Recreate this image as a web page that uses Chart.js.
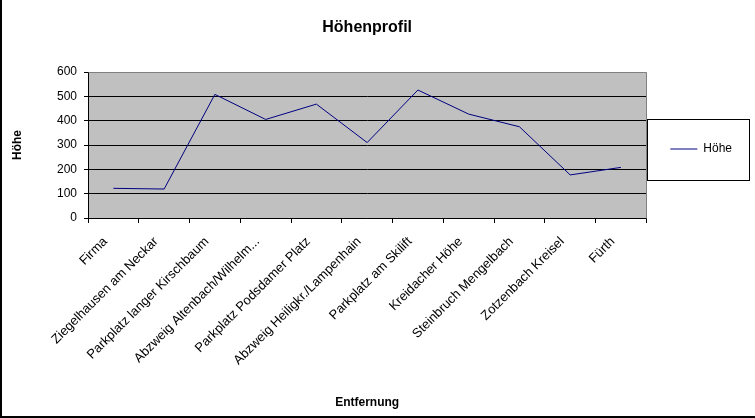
<!DOCTYPE html>
<html>
<head>
<meta charset="utf-8">
<script src="https://cdn.jsdelivr.net/npm/chart.js@4/dist/chart.umd.min.js"></script>
<style>
html,body{margin:0;padding:0;background:#fff;}
#wrap{width:755px;height:418px;position:relative;}
</style>
</head>
<body>
<div id="wrap"><canvas id="c" width="755" height="418"></canvas></div>
<script>
const chartTitle = "Höhenprofil";
const xTitle = "Entfernung";
const yTitle = "Höhe";
const seriesName = "Höhe";
const categories = [
  "Firma",
  "Ziegelhausen am Neckar",
  "Parkplatz langer Kirschbaum",
  "Abzweig Altenbach/Wilhelm...",
  "Parkplatz Podsdamer Platz",
  "Abzweig Heiligkr./Lampenhain",
  "Parkplatz am Skilift",
  "Kreidacher Höhe",
  "Steinbruch Mengelbach",
  "Zotzenbach Kreisel",
  "Fürth"
];
const heights = [122, 119, 508, 405, 468, 310, 526, 427, 375, 177, 208];
const yTicks = [0, 100, 200, 300, 400, 500, 600];

const FONT = "Arial, 'Liberation Sans', sans-serif";

const plotBg = {
  id: 'plotBg',
  beforeDraw(chart) {
    const {ctx, chartArea: a} = chart;
    ctx.save();
    ctx.fillStyle = '#C0C0C0';
    ctx.fillRect(a.left, a.top, a.right - a.left, a.bottom - a.top);
    ctx.restore();
  },
  afterDraw(chart) {
    const {ctx, chartArea: a, width, height} = chart;
    ctx.save();
    ctx.strokeStyle = '#808080';
    ctx.lineWidth = 1;
    ctx.beginPath();
    ctx.moveTo(Math.round(a.left) + 0.5, Math.round(a.top) + 0.5);
    ctx.lineTo(Math.round(a.right) + 0.5, Math.round(a.top) + 0.5);
    ctx.lineTo(Math.round(a.right) + 0.5, Math.round(a.bottom) + 0.5);
    ctx.stroke();
    // legend frame
    const lg = chart.legend;
    if (lg && lg.legendHitBoxes && lg.legendHitBoxes.length) {
      const hb = lg.legendHitBoxes[0];
      const cy = hb.top + hb.height / 2;
      ctx.strokeStyle = '#000';
      ctx.strokeRect(Math.round(a.right) + 1.5, Math.round(cy - 30) + 0.5, 102, 61);
    }
    // outer frame (left and bottom)
    ctx.strokeStyle = '#000';
    ctx.lineWidth = 2;
    ctx.beginPath();
    ctx.moveTo(1, 0);
    ctx.lineTo(1, height - 1);
    ctx.lineTo(width, height - 1);
    ctx.stroke();
    ctx.restore();
  }
};

new Chart(document.getElementById('c'), {
  type: 'line',
  data: {
    labels: categories,
    datasets: [{
      label: seriesName,
      data: heights,
      borderColor: '#000080',
      backgroundColor: '#000080',
      borderWidth: 1,
      pointRadius: 0,
      pointHoverRadius: 0,
      tension: 0,
      fill: false
    }]
  },
  options: {
    responsive: false,
    animation: false,
    devicePixelRatio: 1,
    layout: { padding: { left: 0, right: 13, top: 0, bottom: 0 } },
    plugins: {
      title: {
        display: true,
        fullSize: false,
        text: chartTitle,
        color: '#000',
        font: { family: FONT, size: 16, weight: 'bold' },
        padding: { top: 18, bottom: 34.8 }
      },
      legend: {
        display: true,
        fullSize: false,
        position: 'right',
        align: 'center',
        title: {
          display: true,
          text: '',
          font: { family: FONT, size: 8, lineHeight: 1 },
          padding: 0
        },
        labels: {
          usePointStyle: true,
          pointStyle: 'line',
          pointStyleWidth: 27,
          color: '#000',
          font: { family: FONT, size: 12 },
          padding: 24
        }
      },
      tooltip: { enabled: false }
    },
    scales: {
      x: {
        type: 'category',
        offset: true,
        grid: {
          offset: true,
          drawOnChartArea: false,
          drawTicks: true,
          tickLength: 5,
          color: '#000',
          tickColor: '#000'
        },
        border: { display: true, color: '#000', width: 1 },
        ticks: {
          autoSkip: false,
          maxRotation: 45,
          minRotation: 45,
          color: '#000',
          font: { family: FONT, size: 13 },
          padding: 2
        },
        title: {
          display: true,
          text: xTitle,
          color: '#000',
          font: { family: FONT, size: 12, weight: 'bold' },
          padding: { top: 4, bottom: 8 }
        },
        afterFit(scale) { scale.height = 200; },
        afterUpdate(scale) {
          const proto = Object.getPrototypeOf(scale);
          scale._computeLabelItems = function (ca) {
            const items = proto._computeLabelItems.call(this, ca);
            items.forEach(it => {
              const t = it.options.translation;
              it.options.translation = [t[0] - 8, t[1] + 9];
            });
            return items;
          };
        }
      },
      y: {
        min: 0,
        max: 600,
        afterBuildTicks(scale) { scale.ticks = yTicks.map(v => ({ value: v })); },
        grid: {
          drawTicks: true,
          tickLength: 4,
          color: (c) => (c.tick && c.tick.value === 600 ? '#808080' : '#000'),
          tickColor: '#000'
        },
        border: { display: true, color: '#000', width: 1 },
        ticks: {
          color: '#000',
          font: { family: FONT, size: 12 },
          padding: 7
        },
        title: {
          display: true,
          text: yTitle,
          color: '#000',
          font: { family: FONT, size: 12, weight: 'bold' },
          padding: { top: 10, bottom: 0 }
        },
        afterFit(scale) { scale.width = 88; }
      }
    }
  },
  plugins: [plotBg]
});
</script>
</body>
</html>
